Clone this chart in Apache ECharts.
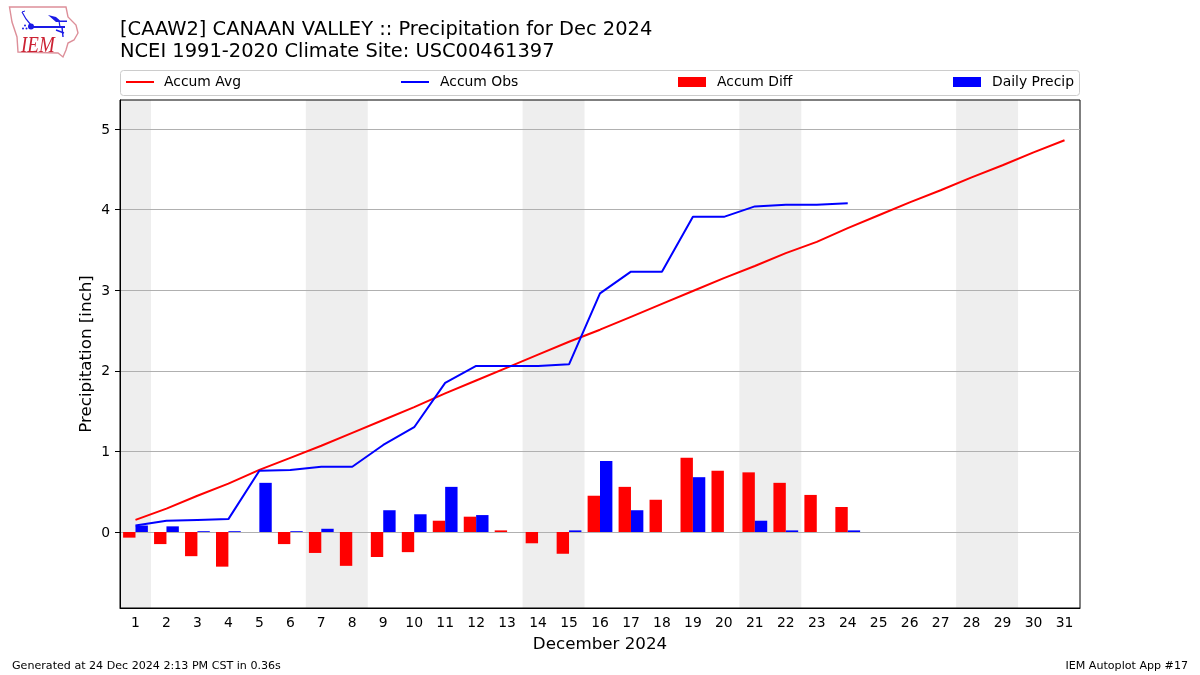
<!DOCTYPE html>
<html><head><meta charset="utf-8">
<style>html,body{margin:0;padding:0;background:#fff}#c{width:1200px;height:675px}</style>
<script src="https://cdn.jsdelivr.net/npm/echarts@6/dist/echarts.min.js"></script>
</head><body><div id="c"></div>
<script>
const days = Array.from({length:31},(_,i)=>String(i+1));
const accumAvg = [0.15,0.29,0.45,0.60,0.77,0.92,1.07,1.23,1.39,1.55,1.72,1.88,2.04,2.20,2.36,2.51,2.67,2.83,2.99,3.15,3.30,3.46,3.60,3.77,3.93,4.09,4.24,4.40,4.55,4.71,4.86];
const accumObs = [0.08,0.14,0.15,0.16,0.76,0.77,0.81,0.81,1.08,1.30,1.85,2.06,2.06,2.06,2.08,2.96,3.23,3.23,3.91,3.91,4.04,4.06,4.06,4.08];
const accumDiff = [-0.07,-0.15,-0.30,-0.43,0,-0.15,-0.26,-0.42,-0.31,-0.25,0.14,0.19,0.02,-0.14,-0.27,0.45,0.56,0.40,0.92,0.76,0.74,0.61,0.46,0.31];
const dailyPrecip = [0.08,0.07,0.01,0.01,0.61,0.01,0.04,0,0.27,0.22,0.56,0.21,0,0,0.02,0.88,0.27,0,0.68,0,0.14,0.02,0,0.02];
const weekends = [[0.5,1.5],[6.5,8.5],[13.5,15.5],[20.5,22.5],[27.5,29.5]];
const yTicks = [0,1,2,3,4,5];
const titleLines = "[CAAW2] CANAAN VALLEY :: Precipitation for Dec 2024\nNCEI 1991-2020 Climate Site: USC00461397";
const FONT = "DejaVu Sans";

const chart = echarts.init(document.getElementById('c'),null,{renderer:'canvas'});
function leg(name,left,isBar,pad){
  return {show:true,data:[{name:name,icon:'rect'}],left:left,top:75,padding:0,itemWidth:28,itemHeight:isBar?10:2,
    selectedMode:false,textStyle:{fontFamily:FONT,fontSize:13.9,color:'#000',padding:[0,0,0,pad]}};
}
const L='#dd8f99', B='#1a1ae6';
chart.setOption({
  animation:false,
  backgroundColor:'#fff',
  textStyle:{fontFamily:FONT},
  title:[
    {text:titleLines,left:120,top:19,padding:0,textStyle:{fontFamily:FONT,fontSize:19.45,fontWeight:'normal',color:'#000',lineHeight:22}},
    {text:'Generated at 24 Dec 2024 2:13 PM CST in 0.36s',left:12,top:661,padding:0,textStyle:{fontFamily:FONT,fontSize:11.1,fontWeight:'normal',color:'#000'}},
    {text:'IEM Autoplot App #17',right:12,top:661,padding:0,textStyle:{fontFamily:FONT,fontSize:11.1,fontWeight:'normal',color:'#000'}}
  ],
  legend:[leg('Accum Avg',126,false,5),leg('Accum Obs',401,false,6),leg('Accum Diff',678,true,6),leg('Daily Precip',953,true,6)],
  grid:{left:120,right:120,top:100,bottom:67,show:true,borderColor:'#000',borderWidth:1,backgroundColor:'transparent',containLabel:false},
  xAxis:[
    {type:'category',data:days,boundaryGap:true,name:'December 2024',nameLocation:'middle',nameGap:28,
     nameTextStyle:{fontFamily:FONT,fontSize:16.7,color:'#000'},
     axisLine:{onZero:false,lineStyle:{color:'#000',width:1}},
     axisTick:{alignWithLabel:true,length:5,lineStyle:{color:'#000'}},
     axisLabel:{interval:0,fontFamily:FONT,fontSize:13.9,color:'#000',margin:8},splitLine:{show:false}},
    {type:'value',min:0.5,max:31.5,show:false}
  ],
  yAxis:{type:'value',min:-0.943,max:5.36,name:'Precipitation [inch]',nameLocation:'middle',nameGap:25,nameMoveOverlap:false,
     nameTextStyle:{fontFamily:FONT,fontSize:16.7,color:'#000'},
     axisLine:{show:true,onZero:false,lineStyle:{color:'#000',width:1}},
     axisTick:{show:true,length:5,lineStyle:{color:'#000'},customValues:yTicks},
     axisLabel:{fontFamily:FONT,fontSize:13.9,color:'#000',margin:10,customValues:yTicks,formatter:'{a|{value}}',rich:{a:{fontFamily:FONT,fontSize:13.9,color:'#000',padding:[2,0,0,0]}}},
     splitLine:{show:true,lineStyle:{color:'#b0b0b0',width:1}}},
  series:[
    {type:'custom',xAxisIndex:1,yAxisIndex:0,z:-1,silent:true,data:weekends,encode:{x:[0,1]},
     renderItem:(p,api)=>{
       const a=api.coord([api.value(0),0]),b=api.coord([api.value(1),0]);
       return {type:'rect',shape:{x:a[0],y:p.coordSys.y,width:b[0]-a[0],height:p.coordSys.height},style:{fill:'#eeeeee'}};
     }},
    {name:'Accum Diff',type:'bar',data:accumDiff,barWidth:'40%',barGap:0,itemStyle:{color:'#ff0000'},z:3},
    {name:'Daily Precip',type:'bar',data:dailyPrecip,barWidth:'40%',barGap:0,itemStyle:{color:'#0000ff'},z:3},
    {name:'Accum Avg',type:'line',data:accumAvg,symbol:'none',lineStyle:{color:'#ff0000',width:2},itemStyle:{color:'#ff0000'},z:4},
    {name:'Accum Obs',type:'line',data:accumObs,symbol:'none',lineStyle:{color:'#0000ff',width:2},itemStyle:{color:'#0000ff'},z:4}
  ],
  graphic:[
    {type:'rect',silent:true,shape:{x:120.5,y:70.5,width:959,height:25,r:3},style:{fill:'none',stroke:'#cccccc',lineWidth:1}},
    {type:'polygon',silent:true,shape:{points:[[9.5,7],[66,7],[68,17],[76,25],[78,33],[74,40],[68,43],[66,50],[63,57],[58,53],[18,52],[17,37],[12,22]]},style:{fill:'none',stroke:L,lineWidth:1.4}},
    {type:'polyline',silent:true,shape:{points:[[31,27],[65,27]]},style:{stroke:B,lineWidth:2}},
    {type:'circle',silent:true,shape:{cx:31,cy:26.5,r:3},style:{fill:B}},
    {type:'polygon',silent:true,shape:{points:[[48,15],[56,17],[60,20.5],[67,20.5],[67,22],[56,22]]},style:{fill:B}},
    {type:'polyline',silent:true,shape:{points:[[22,12],[26,19],[31,25]]},style:{fill:'none',stroke:B,lineWidth:1.2}},
    {type:'polyline',silent:true,shape:{points:[[22,12],[25,11]]},style:{fill:'none',stroke:B,lineWidth:1}},
    {type:'polyline',silent:true,shape:{points:[[59,21],[60,27]]},style:{fill:'none',stroke:B,lineWidth:1.2}},
    {type:'polyline',silent:true,shape:{points:[[62,27],[63,37]]},style:{fill:'none',stroke:B,lineWidth:1.4}},
    {type:'polyline',silent:true,shape:{points:[[56,30],[64,33]]},style:{fill:'none',stroke:B,lineWidth:1.4}},
    {type:'circle',silent:true,shape:{cx:23,cy:28.5,r:1},style:{fill:B}},
    {type:'circle',silent:true,shape:{cx:26.5,cy:28.5,r:1},style:{fill:B}},
    {type:'circle',silent:true,shape:{cx:25,cy:25.5,r:1},style:{fill:B}},
    {type:'text',silent:true,x:21,y:35,scaleY:1.2,style:{x:0,y:0,text:'IEM',fill:'#cc2233',font:'italic 19px "Liberation Serif"'}}
  ]
});
</script></body></html>
